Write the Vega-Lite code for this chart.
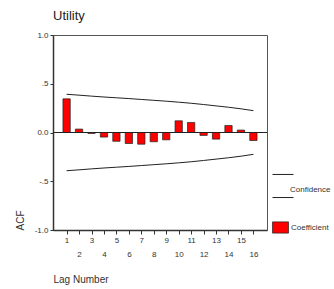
{
  "$schema": "https://vega.github.io/schema/vega-lite/v6.json",
  "width": 214,
  "height": 195,
  "autosize": {"type": "none"},
  "padding": {"left": 53, "top": 35, "right": 67, "bottom": 59},
  "background": "white",
  "config": {
    "font": "Liberation Sans",
    "view": {"stroke": "#555", "strokeWidth": 1},
    "axis": {"labelColor": "#333", "labelFontSize": 8, "titleColor": "#333", "titleFontWeight": "normal", "domainColor": "#333", "tickColor": "#333", "grid": false}
  },
  "title": {"text": "Utility", "anchor": "start", "frame": "group", "fontSize": 13, "fontWeight": "normal", "color": "#222", "offset": 8},
  "data": {
    "values": [
      {"lag": 1, "acf": 0.345, "upper": 0.392, "lower": -0.392},
      {"lag": 2, "acf": 0.035, "upper": 0.383, "lower": -0.383},
      {"lag": 3, "acf": -0.01, "upper": 0.373, "lower": -0.373},
      {"lag": 4, "acf": -0.047, "upper": 0.364, "lower": -0.364},
      {"lag": 5, "acf": -0.09, "upper": 0.356, "lower": -0.356},
      {"lag": 6, "acf": -0.113, "upper": 0.348, "lower": -0.348},
      {"lag": 7, "acf": -0.12, "upper": 0.339, "lower": -0.339},
      {"lag": 8, "acf": -0.095, "upper": 0.33, "lower": -0.33},
      {"lag": 9, "acf": -0.075, "upper": 0.321, "lower": -0.321},
      {"lag": 10, "acf": 0.12, "upper": 0.311, "lower": -0.311},
      {"lag": 11, "acf": 0.103, "upper": 0.3, "lower": -0.3},
      {"lag": 12, "acf": -0.03, "upper": 0.287, "lower": -0.287},
      {"lag": 13, "acf": -0.068, "upper": 0.273, "lower": -0.273},
      {"lag": 14, "acf": 0.072, "upper": 0.259, "lower": -0.259},
      {"lag": 15, "acf": 0.025, "upper": 0.243, "lower": -0.243},
      {"lag": 16, "acf": -0.082, "upper": 0.224, "lower": -0.224}
    ]
  },
  "encoding": {
    "x": {
      "field": "lag", "type": "quantitative",
      "scale": {"domain": [0.31, 16.69], "nice": false, "zero": false},
      "axis": {
        "values": [1,2,3,4,5,6,7,8,9,10,11,12,13,14,15,16],
        "title": "Lag Number",
        "titleFontSize": 10,
        "titleAnchor": "start",
        "titleAlign": "left",
        "titleX": 0,
        "titleY": 49,
        "titleBaseline": "middle",
        "tickSize": 4,
        "labelPadding": 2,
        "labelLineHeight": 14,
        "labelFlush": false,
        "labelOverlap": false,
        "domainWidth": 1.5,
        "labelExpr": "datum.value % 2 == 1 ? datum.label : ['', datum.label]"
      }
    }
  },
  "layer": [
    {
      "mark": {"type": "bar", "width": 7.3, "stroke": "#222", "strokeWidth": 0.7},
      "encoding": {
        "y": {
          "field": "acf", "type": "quantitative",
          "scale": {"domain": [-1, 1], "nice": false},
          "axis": {
            "values": [-1, -0.5, 0, 0.5, 1],
            "title": "ACF",
            "titleFontSize": 10,
            "titleAngle": 270,
            "titleX": -33,
            "titleY": 185,
            "titleAlign": "center",
            "titleBaseline": "middle",
            "tickSize": 3,
            "labelPadding": 2,
            "domainWidth": 1.5,
            "labelExpr": "datum.value == 1 ? '1.0' : datum.value == 0.5 ? '.5' : datum.value == 0 ? '0.0' : datum.value == -0.5 ? '-.5' : '-1.0'"
          }
        },
        "y2": {"datum": 0},
        "fill": {
          "datum": "Coefficient",
          "scale": {"range": ["#ff0000"]},
          "legend": {
            "title": null,
            "orient": "none",
            "legendX": 219,
            "legendY": 184,
            "padding": 0,
            "symbolType": "M-1,-0.7H1V0.7H-1Z",
            "symbolSize": 256,
            "symbolStrokeColor": "#222",
            "symbolStrokeWidth": 0.7,
            "labelFontSize": 8,
            "labelColor": "#333",
            "labelOffset": 2
          }
        }
      }
    },
    {
      "mark": {"type": "rule", "color": "#222", "strokeWidth": 1},
      "encoding": {"y": {"datum": 0}, "x": {"value": 0}, "x2": {"value": 214}}
    },
    {
      "mark": {"type": "line", "strokeWidth": 1},
      "encoding": {
        "y": {"field": "upper", "type": "quantitative"},
        "stroke": {
          "datum": "Confidence",
          "scale": {"range": ["#222"]},
          "legend": {
            "title": null,
            "orient": "none",
            "legendX": 219,
            "legendY": 140,
            "padding": 0,
            "symbolType": "M-1,-1.1H1M-1,1.1H1",
            "symbolSize": 440,
            "symbolStrokeWidth": 1,
            "labelFontSize": 8,
            "labelColor": "#333",
            "labelBaseline": "top",
            "labelOffset": -4
          }
        }
      }
    },
    {
      "mark": {"type": "line", "strokeWidth": 1, "color": "#222"},
      "encoding": {
        "y": {"field": "lower", "type": "quantitative"}
      }
    }
  ]
}
